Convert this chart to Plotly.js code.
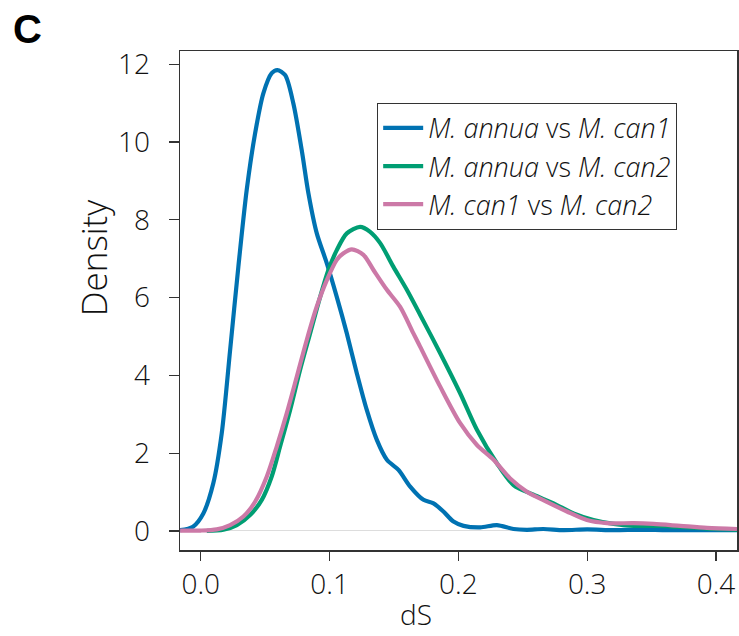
<!DOCTYPE html>
<html>
<head>
<meta charset="utf-8">
<script src="https://cdn.plot.ly/plotly-3.0.1.min.js"></script>
<style>html,body{margin:0;padding:0;background:#fff;}</style>
</head>
<body>
<div id="chart" style="width:739px;height:636px;"></div>
<script>
// M. annua vs M. can1
const blueX = [-0.016, -0.006, 0.002, 0.0098, 0.0163, 0.0228, 0.0292, 0.0357, 0.0422, 0.0486, 0.0551, 0.0595, 0.0655, 0.0719, 0.0784, 0.0836, 0.0901, 0.0979, 0.1056, 0.1134, 0.1212, 0.1289, 0.1367, 0.1445, 0.1535, 0.1626, 0.1729, 0.1807, 0.1884, 0.1962, 0.204, 0.217, 0.2299, 0.2428, 0.2532, 0.266, 0.2816, 0.30, 0.3205, 0.341, 0.362, 0.388, 0.4163];
const blueY = [0.02, 0.11, 0.45, 1.23, 2.51, 4.65, 6.79, 8.77, 10.22, 11.25, 11.77, 11.85, 11.72, 10.99, 9.79, 8.68, 7.65, 6.88, 6.02, 5.08, 4.05, 3.11, 2.34, 1.83, 1.57, 1.14, 0.80, 0.71, 0.50, 0.24, 0.13, 0.09, 0.15, 0.05, 0.03, 0.05, 0.02, 0.04, 0.02, 0.03, 0.02, 0.02, 0.02];
// M. annua vs M. can2
const greenX = [0.0047, 0.0176, 0.028, 0.0383, 0.0474, 0.0551, 0.0616, 0.0694, 0.0771, 0.0849, 0.0927, 0.0991, 0.1056, 0.1134, 0.1237, 0.1315, 0.1393, 0.1496, 0.16, 0.1703, 0.1859, 0.2014, 0.2144, 0.2299, 0.2428, 0.2583, 0.2739, 0.2894, 0.3049, 0.3205, 0.336, 0.3567, 0.3775, 0.398, 0.4163];
const greenY = [0.0, 0.03, 0.15, 0.41, 0.80, 1.40, 2.17, 3.11, 4.14, 5.08, 6.02, 6.71, 7.22, 7.65, 7.82, 7.69, 7.40, 6.79, 6.20, 5.56, 4.57, 3.54, 2.60, 1.74, 1.18, 0.93, 0.71, 0.45, 0.28, 0.18, 0.13, 0.13, 0.09, 0.05, 0.03];
// M. can1 vs M. can2
const pinkX = [-0.016, 0.0, 0.0124, 0.0228, 0.0331, 0.0422, 0.0513, 0.059, 0.0668, 0.0746, 0.0823, 0.0901, 0.0979, 0.1056, 0.1108, 0.1173, 0.1263, 0.1341, 0.1445, 0.1548, 0.1651, 0.1703, 0.1859, 0.2014, 0.2144, 0.2273, 0.2402, 0.2532, 0.2687, 0.2843, 0.2998, 0.3153, 0.336, 0.3515, 0.3723, 0.393, 0.4163];
const pinkY = [0.01, 0.01, 0.04, 0.15, 0.37, 0.75, 1.40, 2.17, 3.03, 3.97, 4.91, 5.77, 6.45, 6.97, 7.14, 7.24, 7.10, 6.71, 6.20, 5.76, 5.08, 4.74, 3.71, 2.77, 2.21, 1.83, 1.35, 1.01, 0.75, 0.50, 0.28, 0.20, 0.20, 0.18, 0.13, 0.08, 0.05];

const seriesNames = [
  "<i>M. annua</i> vs <i>M. can1</i>",
  "<i>M. annua</i> vs <i>M. can2</i>",
  "<i>M. can1</i> vs <i>M. can2</i>"
];
const xTicks = [0.0, 0.1, 0.2, 0.3, 0.4];
const xTickText = ["0.0", "0.1", "0.2", "0.3", "0.4"];
const yTicks = [0, 2, 4, 6, 8, 10, 12];
const xTitle = "dS";
const yTitle = "Density";
const panelLabel = "C";

const FONT = "Open Sans, Liberation Sans, Arial, sans-serif";
const BOLD = "Liberation Sans, Arial, sans-serif";
const lineOpts = (c) => ({color: c, width: 4.2, shape: 'spline', smoothing: 0.8});

const traces = [
  {x: blueX, y: blueY, mode: 'lines', name: seriesNames[0], line: lineOpts('#0072B2')},
  {x: greenX, y: greenY, mode: 'lines', name: seriesNames[1], line: lineOpts('#009E73')},
  {x: pinkX, y: pinkY, mode: 'lines', name: seriesNames[2], line: lineOpts('#CC79A7')}
];

const layout = {
  width: 739, height: 636,
  margin: {l: 180, r: 2, t: 51, b: 86, pad: 0},
  paper_bgcolor: '#fff', plot_bgcolor: '#fff',
  font: {family: FONT, color: '#111', size: 26},
  showlegend: true,
  legend: {
    x: 0.354, y: 0.896, xanchor: 'left', yanchor: 'top',
    bordercolor: '#333', borderwidth: 1, bgcolor: '#fff',
    font: {family: FONT, size: 27, color: '#111', weight: 300},
    tracegroupgap: 0, itemwidth: 40
  },
  xaxis: {
    range: [-0.0161, 0.4163],
    tickvals: xTicks, ticktext: xTickText,
    ticks: 'outside', ticklen: 9, tickwidth: 1.3, tickcolor: '#333',
    showline: true, linecolor: '#333', linewidth: 1.5, mirror: true,
    showgrid: false, zeroline: false,
    tickfont: {family: FONT, size: 28, color: '#111', weight: 300}
  },
  yaxis: {
    range: [-0.49, 12.34],
    tickvals: yTicks,
    ticks: 'outside', ticklen: 10, tickwidth: 1.3, tickcolor: '#333',
    showline: true, linecolor: '#333', linewidth: 1.5, mirror: true,
    showgrid: false, zeroline: true, zerolinecolor: '#dddddd', zerolinewidth: 1,
    tickfont: {family: FONT, size: 28, color: '#111', weight: 300},
    ticklabelstandoff: 13
  },
  annotations: [
    {
      text: '<b>' + panelLabel + '</b>', xref: 'paper', yref: 'paper',
      x: -0.273, y: 1.044, xanchor: 'center', yanchor: 'middle',
      showarrow: false, font: {family: BOLD, size: 40, color: '#000'}
    },
    {
      text: xTitle, xref: 'paper', yref: 'paper',
      x: 0.424, y: -0.1703, xanchor: 'center', yanchor: 'bottom',
      showarrow: false, font: {family: FONT, size: 28, color: '#111', weight: 300}
    },
    {
      text: yTitle, xref: 'paper', yref: 'paper', textangle: -90,
      x: -0.156, y: 0.587, xanchor: 'center', yanchor: 'middle',
      showarrow: false, font: {family: FONT, size: 35, color: '#111', weight: 300}
    }
  ]
};

Plotly.newPlot('chart', traces, layout, {displayModeBar: false, staticPlot: true});
</script>
</body>
</html>
